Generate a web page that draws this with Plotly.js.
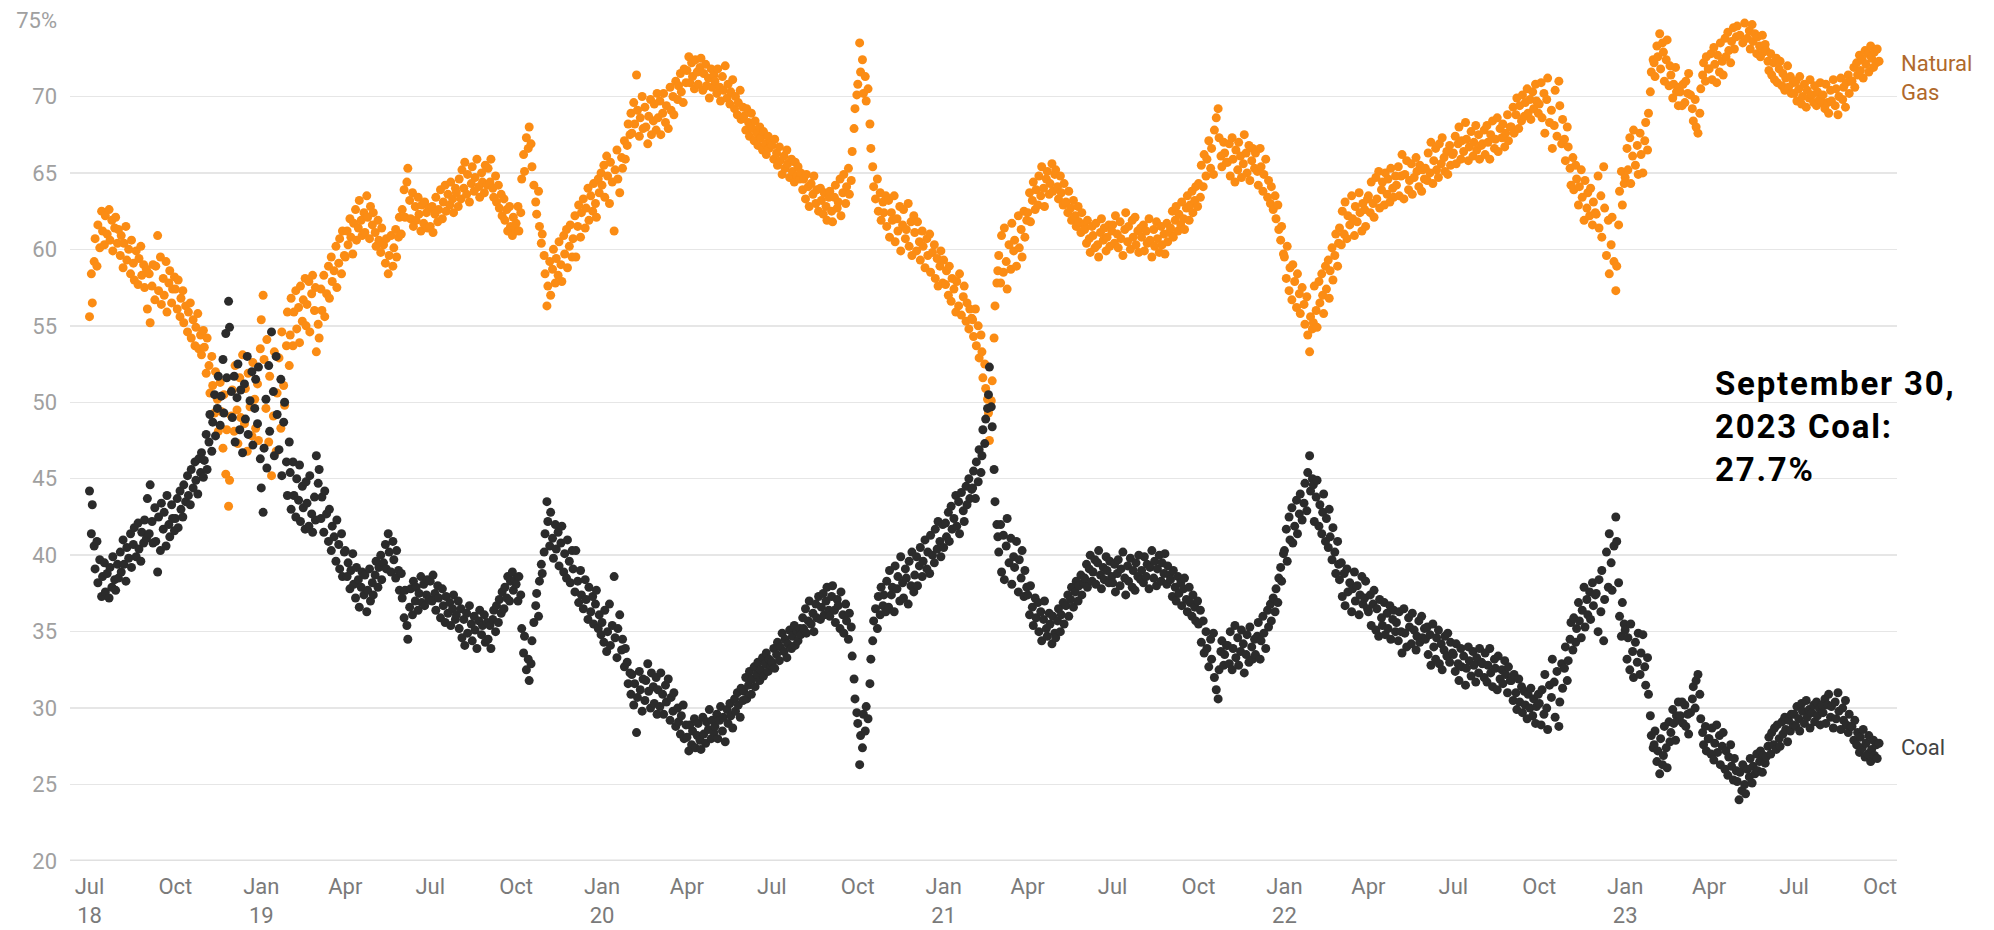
<!DOCTYPE html>
<html>
<head>
<meta charset="utf-8">
<script src="https://cdn.plot.ly/plotly-3.0.1.min.js"></script>
<style>
  html, body { margin: 0; padding: 0; background: #fff; }
  #chart { width: 1994px; height: 930px; }
  g.annotation[data-index="2"] text { letter-spacing: 1.8px; }
</style>
</head>
<body>
<div id="chart"></div>
<script>
// ---- Data: share of generation (%), values per month (spread evenly over the month) ----
// 2018 starts in July, 2023 ends in September.
const gas2018 = [
  [55.6,58.4,56.5,59.2,60.7,58.9,61.6,60.1,62.5,61.2,60.3,62.2,61.0,62.6,60.6,61.9,59.9,61.4,62.1,60.4],
  [61.3,59.6,60.9,58.8,60.4,61.5,59.3,60.0,58.4,60.6,59.1,58.0,59.9,57.7,59.4,60.2,58.3,59.0,57.5,58.7],
  [56.1,58.4,55.2,57.6,59.0,56.7,58.9,60.9,57.3,59.5,56.4,58.1,57.0,59.2,55.9,57.8,58.6,56.5,57.4,58.2],
  [57.4,56.1,58.0,55.6,56.8,57.3,55.2,56.3,54.6,55.9,56.5,54.2,55.4,53.7,54.9,55.8,53.5,54.4,53.1,54.7],
  [53.6,51.9,54.2,52.4,50.6,53.0,51.1,49.3,52.0,50.2,48.1,51.3,49.4,47.0,50.5,45.3,48.2,43.2,44.9,49.1],
  [50.8,48.1,52.4,49.5,47.3,51.6,49.0,53.1,48.6,50.9,46.8,51.9,49.7,47.8,52.6,50.2,48.3,51.2,47.5,53.5]
];
const coal2018 = [
  [44.2,41.4,43.3,40.6,39.1,40.9,38.2,39.7,37.3,38.6,39.5,37.6,38.8,37.2,39.2,37.9,39.9,38.4,37.7,39.4],
  [38.5,40.2,38.9,41.0,39.4,38.3,40.5,39.8,41.4,39.2,40.7,41.8,39.9,42.1,40.4,39.6,41.5,40.8,42.3,41.1],
  [43.7,41.4,44.6,42.2,40.8,43.1,40.9,38.9,42.5,40.3,43.4,41.7,42.8,40.6,43.9,42.0,41.2,43.3,42.4,41.6],
  [42.4,43.7,41.8,44.2,43.0,42.5,44.6,43.5,45.2,43.9,43.3,45.6,44.4,46.1,44.9,44.0,46.3,45.4,46.7,45.1],
  [46.2,47.9,45.6,47.4,49.2,46.8,48.7,50.5,47.8,49.6,51.7,48.5,50.4,52.8,49.3,54.5,51.6,56.6,54.9,50.7],
  [49.0,51.7,47.4,50.3,52.5,48.2,50.8,46.7,51.2,48.9,53.0,47.9,50.1,52.0,47.2,49.6,51.5,48.6,52.3,46.3]
];
const gas2019 = [
  [55.4,57.0,52.8,49.6,54.1,47.4,51.7,45.2,49.1,53.3,46.8,50.6,52.9,48.3,54.6,51.1,49.8,53.7,55.9,52.4],
  [54.4,56.8,53.7,55.9,57.3,54.8,56.2,53.9,57.6,55.3,56.7,58.1,55.0,56.4,57.9,54.6,57.1,58.3,56.0,57.5],
  [53.3,55.1,54.2,57.4,56.0,58.3,55.6,57.1,58.9,56.8,59.5,57.9,58.6,60.2,57.5,59.1,60.7,58.4,61.2,59.6],
  [59.5,61.2,60.3,62.0,60.8,59.7,61.7,62.6,60.6,61.4,63.2,61.9,60.9,62.4,61.1,63.5,62.1,60.7,62.8,61.6],
  [62.4,61.1,60.2,61.9,60.6,59.8,61.4,60.3,59.1,60.7,58.4,59.6,60.9,58.9,60.1,61.3,59.5,60.8,62.1,61.0],
  [62.6,63.9,62.1,64.4,65.3,63.2,62.0,63.7,61.5,62.8,61.9,63.4,62.3,61.2,62.9,61.7,63.1,62.4,61.4,62.7],
  [61.5,62.8,61.1,62.3,63.4,61.8,62.6,63.9,62.0,63.1,64.2,62.5,63.6,62.9,64.4,63.3,62.4,64.0,63.7,62.8],
  [64.6,63.3,65.2,64.0,65.7,63.6,64.9,63.1,64.3,65.4,63.8,64.7,65.9,64.1,63.4,65.0,64.4,63.7,65.5,64.2],
  [65.3,64.4,65.9,64.0,63.4,64.8,63.1,64.2,62.7,63.6,62.2,63.3,61.9,62.6,61.2,62.8,61.5,60.9,62.1,61.4],
  [61.7,62.8,61.2,62.4,64.6,66.2,65.1,67.3,66.6,68.0,66.9,65.4,64.2,63.1,62.3,63.8,61.5,60.4,61.0,59.6],
  [58.4,56.3,57.6,59.2,57.0,58.7,60.0,57.8,59.4,58.3,60.5,59.0,57.9,60.9,59.7,61.3,58.8,60.2,61.6,59.5],
  [60.7,62.2,59.5,61.5,62.9,60.8,62.4,63.3,61.4,62.7,64.0,61.9,63.5,62.5,64.3,63.0,62.1,64.6,63.7,65.0]
];
const coal2019 = [
  [44.4,42.8,47.0,50.2,45.7,52.4,48.1,54.6,50.7,46.5,53.0,49.2,46.9,51.5,45.2,48.7,50.0,46.1,43.9,47.4],
  [45.4,43.0,46.1,43.9,42.5,45.0,43.6,45.9,42.2,44.5,43.1,41.7,44.8,43.4,41.9,45.2,42.7,41.5,43.8,42.3],
  [46.5,44.7,45.6,42.4,43.8,41.5,44.2,42.7,40.9,43.0,40.3,41.9,41.2,39.6,42.3,40.7,39.1,41.4,38.6,40.2],
  [40.3,38.6,39.5,37.8,39.0,40.1,38.1,37.2,39.2,38.4,36.6,37.9,38.9,37.4,38.7,36.3,37.7,39.1,37.0,38.2],
  [37.4,38.7,39.6,37.9,39.2,40.0,38.4,39.5,40.7,39.1,41.4,40.2,38.9,40.9,39.7,38.5,40.3,39.0,37.7,38.8],
  [37.2,35.9,37.7,35.4,34.5,36.6,37.8,36.1,38.3,37.0,37.9,36.4,37.5,38.6,36.9,38.1,36.7,37.4,38.4,37.1],
  [38.3,37.0,38.7,37.5,36.4,38.0,37.2,35.9,37.8,36.7,35.6,37.3,36.2,36.9,35.4,36.5,37.4,35.8,36.1,37.0],
  [35.2,36.5,34.6,35.8,34.1,36.2,34.9,36.7,35.5,34.4,36.0,35.1,33.9,35.7,36.4,34.8,35.4,36.1,34.3,35.6],
  [34.5,35.4,33.9,35.8,36.4,35.0,36.7,35.6,37.1,36.2,37.6,36.5,37.9,37.2,38.6,37.0,38.3,38.9,37.7,38.4],
  [38.1,37.0,38.6,37.4,35.2,33.6,34.7,32.5,33.2,31.8,32.9,34.4,35.6,36.7,37.5,36.0,38.3,39.4,38.8,40.2],
  [41.4,43.5,42.2,40.6,42.8,41.1,39.8,42.0,40.4,41.5,39.3,40.8,41.9,38.9,40.1,38.5,41.0,39.6,38.2,40.3],
  [39.1,37.6,40.3,38.3,36.9,39.0,37.4,36.5,38.4,37.1,35.8,37.9,36.3,37.3,35.5,36.8,37.7,35.2,36.1,34.8]
];
const gas2020 = [
  [64.2,65.5,63.4,66.1,64.8,63.0,65.7,64.4,61.2,65.2,66.5,64.6,63.7,66.0,65.3,67.1,65.9,66.8,68.2,67.5],
  [68.9,67.6,69.6,68.2,71.4,69.1,67.4,68.6,70.0,67.9,69.3,68.0,66.9,68.7,69.8,67.5,68.4,69.5,67.8,70.2],
  [68.6,69.7,67.5,68.9,70.2,68.3,69.4,67.9,70.6,69.1,70.0,68.8,71.0,69.8,70.7,71.5,70.3,69.6,71.8,70.9],
  [71.7,72.6,70.9,72.2,71.3,70.5,72.4,71.6,70.8,71.9,72.5,70.4,71.5,72.1,70.7,71.2,69.9,71.8,70.6,71.4],
  [71.0,70.2,71.8,70.6,69.7,71.3,70.4,72.0,69.9,70.8,69.5,70.3,71.1,69.2,70.0,68.8,69.6,70.4,68.5,69.3],
  [68.7,67.8,69.2,68.3,67.4,68.9,67.9,67.1,68.4,67.6,66.8,68.0,67.3,66.5,67.7,66.9,66.2,67.4,66.6,67.0],
  [66.8,65.9,67.2,66.3,65.5,66.7,65.8,64.9,66.1,65.3,66.5,65.6,64.7,65.9,65.1,64.4,65.7,64.8,65.4,64.6],
  [65.0,63.9,64.6,63.3,64.9,64.1,62.8,64.3,63.6,64.8,63.0,63.9,62.5,64.0,63.2,62.3,63.7,62.8,61.9,63.4],
  [63.8,62.5,61.8,63.4,64.2,62.7,63.1,64.6,62.2,63.7,64.9,63.0,64.1,65.3,63.6,64.5,66.4,67.9,69.2,70.1],
  [70.8,73.5,71.6,72.4,70.2,71.3,69.7,70.5,68.2,66.6,65.4,64.1,63.3,64.6,62.5,63.7,61.9,63.1,62.4,63.5],
  [61.5,63.2,60.8,62.4,61.9,63.5,60.5,62.0,61.2,62.8,59.9,61.6,62.6,60.7,61.3,63.0,60.2,61.8,59.6,62.2],
  [61.1,59.9,61.8,60.5,59.3,61.2,60.2,58.8,60.7,59.6,61.0,58.5,59.8,60.3,58.1,59.4,57.6,58.9,59.9,57.8]
];
const coal2020 = [
  [35.6,34.3,36.4,33.7,35.0,36.8,34.1,35.4,38.6,34.6,33.3,35.2,36.1,33.8,34.5,32.7,33.9,33.0,31.6,32.3],
  [30.9,32.2,30.2,31.6,28.4,30.7,32.4,31.2,29.8,31.9,30.5,31.8,32.9,31.1,30.0,32.3,31.4,30.3,32.0,29.6],
  [31.2,30.1,32.3,30.9,29.6,31.5,30.4,31.9,29.2,30.7,29.8,31.0,28.8,30.0,29.1,28.3,29.5,30.2,28.0,28.9],
  [28.1,27.2,28.9,27.6,28.5,29.3,27.4,28.2,29.0,27.9,27.3,29.4,28.3,27.7,29.1,28.6,29.9,28.0,29.2,28.4],
  [28.8,29.6,28.0,29.2,30.1,28.5,29.4,27.8,29.9,29.0,30.3,29.5,28.7,30.6,29.8,31.0,30.2,29.4,31.3,30.5],
  [31.1,32.0,30.6,31.5,32.4,30.9,31.9,32.7,31.4,32.2,33.0,31.8,32.5,33.3,32.1,32.9,33.6,32.4,33.2,32.8],
  [33.0,33.9,32.6,33.5,34.3,33.1,34.0,34.9,33.7,34.5,33.3,34.2,35.1,33.9,34.7,35.4,34.1,35.0,34.4,35.2],
  [34.8,35.9,35.2,36.5,34.9,35.7,37.0,35.5,36.2,35.0,36.8,35.9,37.3,35.8,36.6,37.5,36.1,37.0,37.9,36.4],
  [36.0,37.3,38.0,36.4,35.6,37.1,36.7,35.2,37.6,36.1,34.9,36.8,35.7,34.5,36.2,35.3,33.4,31.9,30.6,29.7],
  [29.0,26.3,28.2,27.4,29.6,28.5,30.1,29.3,31.6,33.2,34.4,35.7,36.5,35.2,37.3,36.1,37.9,36.7,37.4,36.3],
  [38.3,36.6,39.0,37.4,37.9,36.3,39.3,37.8,38.6,37.0,39.9,38.2,37.2,39.1,38.5,36.8,39.6,38.0,40.2,37.6],
  [38.7,39.9,38.0,39.3,40.5,38.6,39.6,41.0,39.1,40.2,38.8,41.3,40.0,39.5,41.7,40.4,42.2,40.9,39.9,42.0]
];
const gas2021 = [
  [59.3,57.7,58.6,57.0,58.9,56.6,58.1,57.4,55.9,57.9,56.3,58.4,55.7,56.9,57.6,55.3,56.5,54.8,56.1,55.5],
  [55.4,54.3,56.1,53.7,55.0,52.9,54.4,53.3,51.6,52.5,50.9,50.2,49.3,47.5,50.1,51.4,54.2,56.3,57.8,58.6],
  [59.6,57.8,60.9,58.5,61.4,59.2,57.4,60.3,58.7,61.7,59.9,60.6,58.9,62.2,60.1,61.3,59.5,62.5,60.8,61.9],
  [62.4,63.7,61.8,63.2,64.4,62.6,63.9,62.9,64.8,63.5,65.4,64.0,62.8,64.6,65.1,63.6,64.3,65.6,63.8,64.9],
  [65.2,64.1,63.3,64.8,63.7,62.9,64.3,63.1,62.4,63.8,62.7,61.9,63.2,62.2,61.5,62.8,61.8,61.1,62.4,61.6],
  [61.3,60.4,61.9,60.7,59.8,61.5,60.9,60.1,61.7,60.3,59.5,61.1,62.0,60.6,61.4,59.9,60.8,61.6,60.2,61.2],
  [61.6,60.4,62.2,61.0,60.1,61.8,60.7,59.6,61.3,62.4,60.5,61.5,60.0,61.9,60.8,62.1,60.3,61.2,59.8,61.4],
  [60.8,61.6,59.9,61.2,60.4,62.0,60.6,59.5,61.3,60.2,61.8,60.7,59.8,61.5,60.3,61.0,59.7,61.7,60.5,61.1],
  [61.4,62.5,60.8,61.9,62.8,61.2,62.3,61.6,63.1,62.0,61.3,62.7,63.5,61.9,62.9,63.8,62.4,63.2,64.1,62.8],
  [64.3,63.4,65.5,64.1,66.2,64.8,65.9,67.1,65.3,66.6,64.9,67.8,68.6,69.2,67.3,66.1,65.4,67.0,66.3,65.7],
  [65.7,66.9,64.8,67.3,65.9,64.4,66.5,65.2,67.0,66.1,64.7,65.6,67.5,66.3,65.0,66.8,64.5,65.8,66.6,65.3],
  [66.3,65.1,64.2,66.6,65.4,63.8,64.9,65.9,63.4,64.5,63.0,64.1,62.6,63.5,62.0,62.9,61.3,60.6,61.5,59.7]
];
const coal2021 = [
  [40.5,42.1,41.2,42.8,40.9,43.2,41.7,42.4,43.9,41.9,43.5,41.4,44.1,42.9,42.2,44.5,43.3,45.0,43.7,44.3],
  [44.4,45.5,43.7,46.1,44.8,46.9,45.4,46.5,48.2,47.3,48.9,49.6,50.5,52.3,49.7,48.4,45.6,43.5,42.0,41.2],
  [40.2,42.0,38.9,41.3,38.4,40.6,42.4,39.5,41.1,38.1,39.9,39.2,40.9,37.6,39.7,38.5,40.3,37.3,39.0,37.9],
  [37.4,36.1,38.0,36.6,35.4,37.2,35.9,36.9,35.0,36.3,34.4,35.8,37.0,35.2,34.7,36.2,35.5,34.2,36.0,34.9],
  [34.6,35.7,36.5,35.0,36.1,36.9,35.5,36.7,37.4,36.0,37.1,37.9,36.6,37.6,38.3,37.0,38.0,38.7,37.4,38.2],
  [38.5,39.4,37.9,39.1,40.0,38.3,38.9,39.7,38.1,39.5,40.3,38.7,37.8,39.2,38.4,39.9,39.0,38.2,39.6,38.6],
  [38.2,39.4,37.6,38.8,39.7,38.0,39.1,40.2,38.5,37.4,39.3,38.3,39.8,37.9,39.0,37.7,39.5,38.6,40.0,38.4],
  [39.0,38.2,39.9,38.6,39.4,37.8,39.2,40.3,38.5,39.6,38.0,39.1,40.0,38.3,39.5,38.8,40.1,38.1,39.3,38.7],
  [38.4,37.3,39.0,37.9,37.0,38.6,37.5,38.2,36.7,37.8,38.5,37.1,36.3,37.9,36.9,36.0,37.4,36.6,35.7,37.0],
  [35.5,36.4,34.3,35.7,33.6,35.0,33.9,32.7,34.5,33.2,34.9,32.0,31.2,30.6,32.5,33.7,34.4,32.8,33.5,34.1],
  [34.1,32.9,35.0,32.5,33.9,35.4,33.3,34.6,32.8,33.7,35.1,34.2,32.3,33.5,34.8,33.0,35.3,34.0,33.2,34.5],
  [33.5,34.7,35.6,33.2,34.4,36.0,34.9,33.9,36.4,35.3,36.8,35.7,37.2,36.3,37.8,36.9,38.5,39.2,38.3,40.1]
];
const gas2022 = [
  [59.5,58.1,60.2,57.3,58.8,56.7,59.0,57.9,56.2,58.4,57.1,55.8,57.5,56.4,55.1,56.9,54.4,53.3,55.6,54.8],
  [55.2,57.6,56.0,54.9,57.9,56.5,58.4,57.0,55.8,58.9,57.4,59.3,56.8,58.6,60.1,58.0,59.6,61.0,58.9,60.4],
  [61.4,60.3,62.5,61.0,63.1,60.7,62.2,61.6,63.5,62.0,60.9,62.8,61.8,63.7,62.4,61.2,63.0,62.6,61.5,63.3],
  [63.5,62.4,64.4,63.0,62.1,64.7,63.3,65.1,62.7,63.9,64.4,62.9,65.0,63.6,64.6,63.1,65.3,64.0,63.4,64.8],
  [64.2,65.4,63.5,64.8,66.2,63.3,64.9,65.8,63.9,64.5,65.6,63.6,64.7,66.0,65.1,64.1,65.5,63.8,65.2,64.6],
  [65.3,64.5,66.3,65.0,67.0,64.3,65.8,66.6,65.2,64.7,66.9,65.6,67.3,66.0,65.1,66.4,64.9,66.8,65.5,66.2],
  [66.3,67.4,65.6,66.9,68.0,65.9,67.1,66.4,68.3,67.2,65.8,66.7,67.7,66.1,67.0,68.1,66.5,67.5,65.9,66.8],
  [66.9,67.8,66.2,68.1,67.0,65.9,67.5,68.4,66.6,67.2,68.6,66.4,67.9,67.3,68.2,66.7,67.6,68.8,67.1,68.0],
  [68.0,69.3,67.6,68.8,69.9,67.9,69.4,68.4,70.1,68.7,69.6,70.5,68.9,69.8,68.5,70.3,69.2,70.8,69.7,68.9],
  [69.5,70.9,68.6,70.2,67.6,69.8,71.2,68.3,69.1,66.6,68.1,70.4,67.4,71.0,69.4,66.9,68.5,67.2,65.8,68.0],
  [66.7,65.3,64.2,66.0,63.9,65.5,64.6,62.9,64.1,65.2,63.4,61.9,64.5,62.7,63.7,62.2,64.0,61.6,63.1,62.4],
  [62.3,64.8,61.4,63.5,60.8,65.4,62.7,59.6,61.9,58.4,60.3,62.1,59.2,57.3,58.9,61.6,63.8,65.1,62.9,64.3]
];
const coal2022 = [
  [40.3,41.7,39.6,42.5,41.0,43.1,40.8,41.9,43.6,41.4,42.7,44.0,42.3,43.4,44.7,42.9,45.4,46.5,44.2,45.0],
  [44.6,42.2,43.8,44.9,41.9,43.3,41.4,42.8,44.0,40.9,42.4,40.5,43.0,41.2,39.7,41.8,40.2,38.8,40.9,39.4],
  [38.4,39.5,37.3,38.8,36.7,39.1,37.6,38.2,36.3,37.8,38.9,37.0,38.0,36.1,37.4,38.6,36.8,37.2,38.3,36.5],
  [36.3,37.4,35.4,36.8,37.7,35.1,36.5,34.7,37.1,35.9,35.4,36.9,34.8,36.2,35.2,36.7,34.5,35.8,36.4,35.0],
  [35.6,34.4,36.3,35.0,33.6,36.5,34.9,34.0,35.9,35.3,34.2,36.2,35.1,33.8,34.7,35.7,34.3,36.0,34.6,35.2],
  [34.5,35.3,33.5,34.8,32.8,35.5,34.0,33.2,34.6,35.1,32.9,34.2,32.5,33.8,34.7,33.4,34.9,33.0,34.3,33.6],
  [33.5,32.4,34.2,32.9,31.8,33.9,32.7,33.4,31.5,32.6,34.0,33.1,32.1,33.7,32.8,31.7,33.3,32.3,33.9,33.0],
  [32.9,32.0,33.6,31.7,32.8,33.9,32.3,31.4,33.2,32.6,31.2,33.4,31.9,32.5,31.6,33.1,32.2,31.0,32.7,31.8],
  [31.8,30.5,32.2,31.0,29.9,31.9,30.4,31.4,29.7,31.1,30.2,29.3,30.9,30.0,31.3,29.5,30.6,29.0,30.1,30.9],
  [30.3,28.9,31.2,29.6,32.2,30.0,28.6,31.5,30.7,33.2,31.7,29.4,32.4,28.8,30.4,32.9,31.3,32.6,34.0,31.8],
  [33.1,34.5,35.6,33.8,35.9,34.3,35.2,36.9,35.7,34.6,36.4,37.9,35.3,37.1,36.1,37.6,35.8,38.2,36.7,37.4],
  [37.5,35.0,38.4,36.3,39.0,34.4,37.1,40.2,37.9,41.4,39.5,37.7,40.6,42.5,40.9,38.2,36.0,34.7,36.9,35.5]
];
const gas2023 = [
  [64.7,66.6,65.2,67.3,64.3,66.1,67.8,65.5,66.8,64.9,67.6,66.2,65.0,67.1,68.3,66.5,68.9,70.3,71.6,72.4],
  [72.2,71.3,73.3,72.6,74.1,71.8,73.5,72.9,71.0,72.4,73.7,70.7,72.0,71.4,69.9,70.8,71.9,70.3,69.4,70.6],
  [70.3,69.4,70.8,69.6,71.0,70.2,71.5,70.1,69.2,68.4,69.8,68.0,67.6,68.9,70.5,71.4,72.2,71.0,72.6,71.8],
  [71.8,72.8,71.1,73.2,72.1,70.9,72.7,71.6,73.5,72.3,71.4,73.8,72.6,74.2,73.0,72.2,73.6,74.5,73.1,73.9],
  [74.6,75.8,74.0,75.2,73.5,74.8,75.4,73.8,74.3,73.1,74.7,73.6,74.1,72.8,73.9,73.3,72.6,74.0,72.9,73.4],
  [73.0,72.3,71.7,72.8,71.4,72.2,71.1,72.5,70.9,71.8,72.3,70.7,71.5,70.4,71.2,72.0,70.6,71.3,70.2,70.9],
  [70.2,71.0,69.7,70.5,71.3,69.5,70.0,70.8,69.3,70.4,69.9,71.1,70.1,69.6,70.7,69.4,70.3,69.8,70.9,69.6],
  [70.1,69.2,70.8,69.6,68.9,70.4,69.7,71.1,69.4,70.5,68.8,70.0,71.2,69.8,70.6,69.3,70.9,71.4,70.2,71.0],
  [71.0,71.9,70.6,72.2,71.4,72.7,71.7,72.4,71.2,73.0,72.1,72.8,71.6,73.3,72.5,71.9,72.9,72.2,73.1,72.3]
];
const coal2023 = [
  [35.1,33.2,34.6,32.5,35.5,33.7,32.0,34.3,33.0,34.9,32.2,33.6,34.8,32.7,31.5,33.3,30.9,29.5,28.2,27.4],
  [27.6,28.5,26.5,27.2,25.7,28.0,26.3,26.9,28.8,27.4,26.1,29.1,27.8,28.4,29.9,29.0,27.9,29.5,30.4,29.2],
  [29.5,30.4,29.0,30.2,28.8,29.6,28.3,29.7,30.6,31.4,30.0,31.8,32.2,30.9,29.3,28.4,27.6,28.8,27.2,28.0],
  [28.0,27.0,28.7,26.6,27.7,28.9,27.1,28.2,26.3,27.5,28.4,26.0,27.2,25.6,26.8,27.6,26.2,25.3,26.7,25.9],
  [25.2,24.0,25.8,24.6,26.3,25.0,24.4,26.0,25.5,26.7,25.1,26.2,25.7,27.0,25.9,26.5,27.2,25.8,26.9,26.4],
  [26.8,27.5,28.1,27.0,28.4,27.6,28.7,27.3,28.9,28.0,27.5,29.1,28.3,29.4,28.6,27.8,29.2,28.5,29.6,28.9],
  [29.6,28.8,30.1,29.3,28.5,30.3,29.8,29.0,30.5,29.4,29.9,28.7,29.7,30.2,29.1,30.4,29.5,30.0,28.9,30.2],
  [29.7,30.6,29.0,30.2,30.9,29.4,30.1,28.7,30.4,29.3,31.0,29.8,28.6,30.0,29.2,30.5,28.9,28.4,29.6,28.8],
  [28.8,27.9,29.2,27.6,28.4,27.1,28.1,27.4,28.6,26.8,27.7,27.0,28.2,26.5,27.3,27.9,26.9,27.6,26.7,27.7]
];

const years = [2018, 2019, 2020, 2021, 2022, 2023];
const firstMonth = {2018: 6, 2019: 0, 2020: 0, 2021: 0, 2022: 0, 2023: 0};
const gasByYear = {2018: gas2018, 2019: gas2019, 2020: gas2020, 2021: gas2021, 2022: gas2022, 2023: gas2023};
const coalByYear = {2018: coal2018, 2019: coal2019, 2020: coal2020, 2021: coal2021, 2022: coal2022, 2023: coal2023};

const tickDates = ['2018-07-01','2018-10-01','2019-01-01','2019-04-01','2019-07-01','2019-10-01',
  '2020-01-01','2020-04-01','2020-07-01','2020-10-01','2021-01-01','2021-04-01','2021-07-01','2021-10-01',
  '2022-01-01','2022-04-01','2022-07-01','2022-10-01','2023-01-01','2023-04-01','2023-07-01','2023-10-01'];
const tickLabels = ['Jul<br>18','Oct','Jan<br>19','Apr','Jul','Oct',
  'Jan<br>20','Apr','Jul','Oct','Jan<br>21','Apr','Jul','Oct',
  'Jan<br>22','Apr','Jul','Oct','Jan<br>23','Apr','Jul','Oct'];
const yTickVals = [20, 25, 30, 35, 40, 45, 50, 55, 60, 65, 70, 75];
const yTickText = ['20','25','30','35','40','45','50','55','60','65','70','75%'];

function pad(n) { return String(n).padStart(2, '0'); }
function build(byYear) {
  const xs = [], ys = [];
  years.forEach(yr => {
    byYear[yr].forEach((vals, k) => {
      const m = firstMonth[yr] + k;
      const dim = new Date(Date.UTC(yr, m + 1, 0)).getUTCDate();
      vals.forEach((v, i) => {
        const d = 1 + Math.round(i * (dim - 1) / (vals.length - 1));
        xs.push(yr + '-' + pad(m + 1) + '-' + pad(d));
        ys.push(v);
      });
    });
  });
  return {xs, ys};
}

const gas = build(gasByYear);
const coal = build(coalByYear);

const traces = [
  {x: gas.xs, y: gas.ys, type: 'scatter', mode: 'markers', name: 'Natural Gas',
   marker: {color: '#fb8c14', size: 9}, cliponaxis: false, hoverinfo: 'skip'},
  {x: coal.xs, y: coal.ys, type: 'scatter', mode: 'markers', name: 'Coal',
   marker: {color: '#2b2b2b', size: 9}, cliponaxis: false, hoverinfo: 'skip'}
];

const layout = {
  width: 1994, height: 930,
  margin: {l: 70, r: 97, t: 20, b: 69},
  paper_bgcolor: '#ffffff', plot_bgcolor: '#ffffff',
  showlegend: false,
  font: {family: 'Roboto, "Open Sans", sans-serif'},
  xaxis: {
    type: 'date', range: ['2018-06-10 03:00', '2023-10-19 05:00'],
    tickmode: 'array', tickvals: tickDates, ticktext: tickLabels,
    tickfont: {size: 22, color: '#7a7a7a'},
    showgrid: false, zeroline: false, showline: false, ticks: '',
    ticklabelstandoff: 10, fixedrange: true
  },
  yaxis: {
    range: [20, 75], tickmode: 'array', tickvals: yTickVals, ticktext: yTickText,
    tickfont: {size: 22, color: '#a0a0a0'},
    gridcolor: '#e6e6e6', gridwidth: 1.5, zeroline: false, showline: false, ticks: '',
    ticklabelstandoff: 12, fixedrange: true
  },
  shapes: [
    {type: 'line', xref: 'paper', x0: 0, x1: 1, yref: 'y', y0: 20, y1: 20,
     line: {color: '#e0e0e0', width: 3}, layer: 'below'}
  ],
  annotations: [
    {xref: 'paper', yref: 'y', x: 1, y: 71.2, xanchor: 'left', yanchor: 'middle', xshift: 2,
     text: 'Natural<br>Gas', showarrow: false, align: 'left',
     font: {size: 22, color: '#b0692c'}},
    {xref: 'paper', yref: 'y', x: 1, y: 27.45, xanchor: 'left', yanchor: 'middle', xshift: 2,
     text: 'Coal', showarrow: false, align: 'left',
     font: {size: 22, color: '#444444'}},
    {xref: 'paper', yref: 'paper', x: 0.8993, y: 0.517, xanchor: 'left', yanchor: 'middle',
     text: '<b>September 30,<br>2023 Coal:<br>27.7%</b>', showarrow: false, align: 'left',
     font: {size: 33, color: '#000000', family: 'Roboto, sans-serif'}}
  ]
};

Plotly.newPlot('chart', traces, layout, {displayModeBar: false, staticPlot: true});
</script>
</body>
</html>
